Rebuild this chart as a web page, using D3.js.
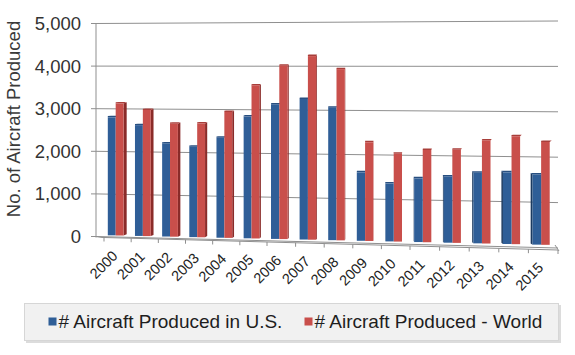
<!DOCTYPE html>
<html>
<head>
<meta charset="utf-8">
<script src="https://cdn.jsdelivr.net/npm/d3@7"></script>
<style>
  html, body { margin: 0; padding: 0; background: #fff; }
  svg { display: block; font-family: Arial, "Liberation Sans", sans-serif; }
</style>
</head>
<body>
<svg id="chart" width="575" height="355"></svg>
<script>
// ---- data ----
const years = ["2000","2001","2002","2003","2004","2005","2006","2007","2008","2009","2010","2011","2012","2013","2014","2015"];
const usProduced = [2816, 2634, 2207, 2137, 2355, 2857, 3147, 3279, 3079, 1585, 1334, 1465, 1518, 1615, 1631, 1592];
const worldProduced = [3147, 2998, 2677, 2686, 2963, 3590, 4054, 4277, 3974, 2283, 2024, 2120, 2133, 2353, 2454, 2331];
const yTicks = [0, 1000, 2000, 3000, 4000, 5000];
const seriesNames = ["# Aircraft Produced in U.S.", "# Aircraft Produced - World"];
const yTitle = "No. of Aircraft Produced";

const colors = {
  blue: "#2f5e97", blueSide: "#1c3a60", blueTop: "#284f80",
  red: "#c94f4b", redSide: "#8a2b29", redTop: "#a83e3a"
};

const svg = d3.select("#chart");

// perspective helpers (scales)
const xb = d3.scaleLinear().domain([0, 6, 11, 16]).range([104, 267, 410, 558]); // category boundaries on floor
const frontY = d3.scaleLinear().domain([104, 558]).range([237.5, 250]);          // front floor edge
const baseY = d3.scaleLinear().domain([110, 540]).range([235.3, 244.7]);         // bar bottoms
const kPx = d3.scaleLinear().domain([110, 540]).range([0.0419, 0.0441]);         // px per unit
const yLeft = d3.scaleLinear().domain([0, 5000]).range([236.5, 23.5]);           // back wall, left end
const yRight = d3.scaleLinear().domain([0, 5000]).range([248, 21]);              // back wall, right end
const wallL = 96, wallR = 558;
const vanishX = 380;

const gridColor = "#8f8f8f";

// gridlines on back wall
svg.append("g").selectAll("line").data(yTicks).join("line")
  .attr("x1", wallL).attr("x2", wallR)
  .attr("y1", d => yLeft(d)).attr("y2", d => yRight(d))
  .attr("stroke", gridColor).attr("stroke-width", 1);

// y axis line and ticks
svg.append("line").attr("x1", wallL).attr("x2", wallL)
  .attr("y1", yLeft(5000) - 0.5).attr("y2", yLeft(0) + 1)
  .attr("stroke", gridColor);
svg.append("g").selectAll("line").data(yTicks).join("line")
  .attr("x1", wallL - 5).attr("x2", wallL)
  .attr("y1", d => yLeft(d)).attr("y2", d => yLeft(d))
  .attr("stroke", gridColor);

// floor front edge and side edges
svg.append("line").attr("x1", xb(0) - 2).attr("x2", xb(16))
  .attr("y1", frontY(xb(0) - 2)).attr("y2", frontY(xb(16)))
  .attr("stroke", gridColor);
svg.append("line").attr("x1", wallL).attr("x2", xb(0) - 2)
  .attr("y1", yLeft(0)).attr("y2", frontY(xb(0) - 2))
  .attr("stroke", gridColor);
svg.append("line").attr("x1", wallR - 3).attr("x2", xb(16) + 1)
  .attr("y1", yRight(0) - 3).attr("y2", frontY(xb(16)) + 1)
  .attr("stroke", gridColor);

// x ticks
svg.append("g").selectAll("line").data(d3.range(17)).join("line")
  .attr("x1", d => xb(d)).attr("x2", d => xb(d))
  .attr("y1", d => frontY(xb(d))).attr("y2", d => frontY(xb(d)) + 4)
  .attr("stroke", gridColor);

// bars
const barsG = svg.append("g");
function drawBar(xl, w, v, front, side, top, sideDir) {
  const yb = baseY(xl + w / 2);
  const ys = d3.scaleLinear().domain([0, 5000]).range([yb, yb - 5000 * kPx(xl + w / 2)]);
  const yt = ys(v);
  const xr = xl + w;
  const s = Math.abs(vanishX - (xl + w / 2)) * 0.012;
  const g = barsG.append("g");
  if (sideDir > 0) {
    g.append("path").attr("d", d3.line()([[xr, yt], [xr + s, yt - 1.2], [xr + s, yb - 1.2], [xr, yb]]))
      .attr("fill", side);
  } else if (sideDir < 0) {
    g.append("path").attr("d", d3.line()([[xl, yt], [xl - s, yt - 1.2], [xl - s, yb - 1.2], [xl, yb]]))
      .attr("fill", side);
  }
  g.append("path").attr("d", d3.line()([[xl, yt], [xr, yt], [xr + (sideDir >= 0 ? s : 0), yt - 1.5], [xl + (sideDir >= 0 ? s : -s), yt - 1.5], [xl - (sideDir < 0 ? s : 0), yt - 1.2]]))
    .attr("fill", top);
  g.append("rect").attr("x", xl).attr("y", yt).attr("width", w).attr("height", yb - yt).attr("fill", front);
}

years.forEach((yr, i) => {
  const x0 = xb(i), cw = xb(i + 1) - xb(i);
  const w = 0.29 * cw;
  const bl = x0 + 0.14 * cw;
  const rl = bl + w;
  const cx = bl + w;
  if (cx < vanishX) {
    drawBar(bl, w, usProduced[i], colors.blue, colors.blueSide, colors.blueTop, 0);
    drawBar(rl, w, worldProduced[i], colors.red, colors.redSide, colors.redTop, 1);
  } else {
    drawBar(rl, w, worldProduced[i], colors.red, colors.redSide, colors.redTop, 0);
    drawBar(bl, w, usProduced[i], colors.blue, colors.blueSide, colors.blueTop, -1);
  }
});

// y tick labels
svg.append("g").selectAll("text").data(yTicks).join("text")
  .attr("x", 81).attr("y", d => yLeft(d))
  .attr("dy", "0.35em")
  .attr("text-anchor", "end")
  .attr("font-size", "18.5px").attr("fill", "#333")
  .text(d => d3.format(",")(d));

// y title
svg.append("text")
  .attr("transform", "translate(20,119) rotate(-90)")
  .attr("text-anchor", "middle")
  .attr("font-size", "18.5px").attr("fill", "#3a3a3a")
  .text(yTitle);

// x labels
svg.append("g").selectAll("text").data(years).join("text")
  .attr("transform", (d, i) => {
    const cx = (xb(i) + xb(i + 1)) / 2;
    return `translate(${cx + 1},${frontY(cx) + 19}) rotate(-45)`;
  })
  .attr("text-anchor", "end")
  .attr("font-size", "14.5px").attr("fill", "#222")
  .text(d => d);

// legend
const lg = svg.append("g");
lg.append("rect").attr("x", 26).attr("y", 305).attr("width", 535).attr("height", 38)
  .attr("fill", "#dcdcdc");
lg.append("rect").attr("x", 24.5).attr("y", 303.5).attr("width", 534).attr("height", 37)
  .attr("fill", "#f1f1f1").attr("stroke", "#d6d6d6");
const legendItems = [
  { name: seriesNames[0], color: colors.blue, x: 48.5 },
  { name: seriesNames[1], color: colors.red, x: 304.5 }
];
legendItems.forEach(it => {
  lg.append("rect").attr("x", it.x).attr("y", 317.5).attr("width", 8).attr("height", 8).attr("fill", it.color);
  lg.append("text").attr("x", it.x + 10).attr("y", 327.5)
    .attr("font-size", "19px").attr("fill", "#1e1e1e").text(it.name);
});
</script>
</body>
</html>
